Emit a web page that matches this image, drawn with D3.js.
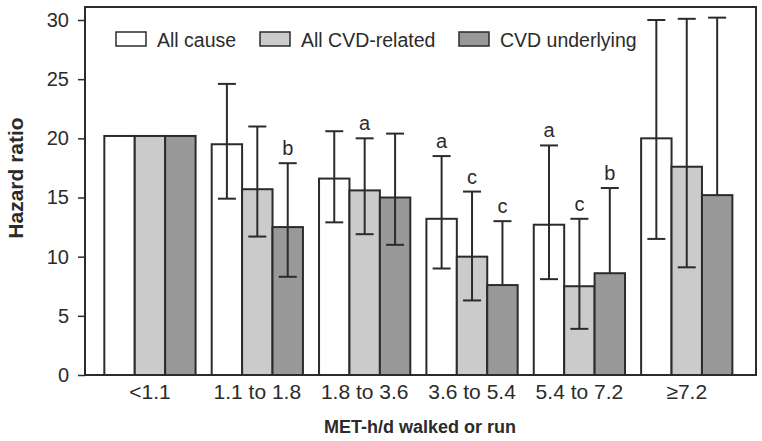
<!DOCTYPE html>
<html>
<head>
<meta charset="utf-8">
<script src="https://cdn.jsdelivr.net/npm/d3@7"></script>
<style>
  html, body { margin: 0; padding: 0; background: #fff; }
  svg { display: block; font-family: "Liberation Sans", Arial, Helvetica, sans-serif; }
</style>
</head>
<body>
<svg id="chart" width="762" height="441"></svg>
<script>
const categories = ["<1.1", "1.1 to 1.8", "1.8 to 3.6", "3.6 to 5.4", "5.4 to 7.2", "≥7.2"];
const seriesNames = ["All cause", "All CVD-related", "CVD underlying"];
const yTicks = [0, 5, 10, 15, 20, 25, 30];

const allCause      = [20.2, 19.5, 16.6, 13.2, 12.7, 20.0];
const allCauseLo    = [null, 14.9, 12.9, 9.0, 8.1, 11.5];
const allCauseHi    = [null, 24.6, 20.6, 18.5, 19.4, 30.0];
const allCauseSig   = ["", "", "", "a", "a", ""];

const cvdRelated    = [20.2, 15.7, 15.6, 10.0, 7.5, 17.6];
const cvdRelatedLo  = [null, 11.7, 11.9, 6.3, 3.9, 9.1];
const cvdRelatedHi  = [null, 21.0, 20.0, 15.5, 13.2, 30.1];
const cvdRelatedSig = ["", "", "a", "c", "c", ""];

const cvdUnder      = [20.2, 12.5, 15.0, 7.6, 8.6, 15.2];
const cvdUnderLo    = [null, 8.3, 11.0, null, null, null];
const cvdUnderHi    = [null, 17.9, 20.4, 13.0, 15.8, 30.2];
const cvdUnderSig   = ["", "b", "", "c", "b", ""];

const fills = ["#ffffff", "#cbcbcb", "#999999"];
const ink = "#2b2b2b";

const seriesData = [
  {name: seriesNames[0], v: allCause, lo: allCauseLo, hi: allCauseHi, sig: allCauseSig},
  {name: seriesNames[1], v: cvdRelated, lo: cvdRelatedLo, hi: cvdRelatedHi, sig: cvdRelatedSig},
  {name: seriesNames[2], v: cvdUnder, lo: cvdUnderLo, hi: cvdUnderHi, sig: cvdUnderSig}
];

const frame = {left: 85, right: 756, top: 7, bottom: 375};
const svg = d3.select("#chart");

const y = d3.scaleLinear().domain([0, 30]).range([375, 20]);
const x = d3.scaleBand().domain(categories).range([frame.left, frame.right])
  .paddingInner(0.15).paddingOuter(0.2).align(0.45);
const x1 = d3.scaleBand().domain(seriesNames).range([0, x.bandwidth()]);
const color = d3.scaleOrdinal().domain(seriesNames).range(fills);

const recs = [];
seriesData.forEach(s => {
  categories.forEach((c, i) => {
    recs.push({series: s.name, cat: c, v: s.v[i], lo: s.lo[i], hi: s.hi[i], sig: s.sig[i]});
  });
});

// bars
svg.append("g").selectAll("rect").data(recs).join("rect")
  .attr("x", d => x(d.cat) + x1(d.series))
  .attr("y", d => y(d.v))
  .attr("width", x1.bandwidth())
  .attr("height", d => y(0) - y(d.v))
  .attr("fill", d => color(d.series))
  .attr("stroke", ink)
  .attr("stroke-width", 2);

// error bars
const capW = 18;
const eb = svg.append("g").attr("stroke", ink).attr("stroke-width", 2).attr("fill", "none");
recs.filter(d => d.hi != null).forEach(d => {
  const cx = x(d.cat) + x1(d.series) + x1.bandwidth() / 2;
  const bottom = d.lo != null ? d.lo : d.v;
  eb.append("line").attr("x1", cx).attr("x2", cx).attr("y1", y(bottom)).attr("y2", y(d.hi));
  eb.append("line").attr("x1", cx - capW / 2).attr("x2", cx + capW / 2).attr("y1", y(d.hi)).attr("y2", y(d.hi));
  if (d.lo != null) {
    eb.append("line").attr("x1", cx - capW / 2).attr("x2", cx + capW / 2).attr("y1", y(d.lo)).attr("y2", y(d.lo));
  }
});

// significance letters
svg.append("g").selectAll("text").data(recs.filter(d => d.sig)).join("text")
  .attr("x", d => x(d.cat) + x1(d.series) + x1.bandwidth() / 2)
  .attr("y", d => y(d.hi) - 8)
  .attr("text-anchor", "middle")
  .attr("font-size", 20)
  .attr("fill", ink)
  .text(d => d.sig);

// frame
svg.append("rect")
  .attr("x", frame.left).attr("y", frame.top)
  .attr("width", frame.right - frame.left).attr("height", frame.bottom - frame.top)
  .attr("fill", "none").attr("stroke", ink).attr("stroke-width", 2);

// y axis
const yAxis = svg.append("g").attr("transform", `translate(${frame.left},0)`)
  .call(d3.axisLeft(y).tickValues(yTicks).tickSize(7).tickPadding(9));
yAxis.select(".domain").remove();
yAxis.selectAll(".tick line").attr("stroke", ink).attr("stroke-width", 1.5);
yAxis.selectAll(".tick text").attr("font-size", 20).attr("fill", ink)
  .attr("font-family", "Liberation Sans, Arial, sans-serif");

// x axis labels
const xAxis = svg.append("g").attr("transform", `translate(0,${frame.bottom})`)
  .call(d3.axisBottom(x).tickSize(0).tickPadding(9));
xAxis.select(".domain").remove();
xAxis.selectAll(".tick text").attr("font-size", 21).attr("fill", ink)
  .attr("font-family", "Liberation Sans, Arial, sans-serif");

// axis titles
svg.append("text")
  .attr("x", 420).attr("y", 433)
  .attr("text-anchor", "middle")
  .attr("font-size", 18).attr("font-weight", "bold").attr("fill", ink)
  .text("MET-h/d walked or run");

svg.append("text")
  .attr("transform", "translate(23,178) rotate(-90)")
  .attr("text-anchor", "middle")
  .attr("font-size", 21).attr("font-weight", "bold").attr("fill", ink)
  .text("Hazard ratio");

// legend
const legendX = [116, 260, 459];
const lg = svg.append("g");
seriesNames.forEach((n, i) => {
  lg.append("rect").attr("x", legendX[i]).attr("y", 32).attr("width", 30).attr("height", 14)
    .attr("fill", color(n)).attr("stroke", ink).attr("stroke-width", 1.5);
  lg.append("text").attr("x", legendX[i] + 41).attr("y", 46.5)
    .attr("font-size", 19.5).attr("fill", ink).text(n);
});
</script>
</body>
</html>
